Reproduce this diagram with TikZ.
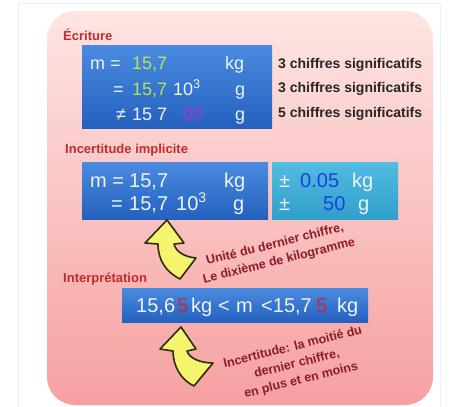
\documentclass[tikz,border=0pt]{standalone}
\usepackage{fontspec}
\setmainfont{Liberation Sans}
\definecolor{pinktop}{HTML}{FDE5E3}
\definecolor{pinkbot}{HTML}{F6A0A0}
\definecolor{bluetop}{HTML}{4A8BE0}
\definecolor{bluebot}{HTML}{2461BE}
\definecolor{cyantop}{HTML}{52BCE2}
\definecolor{cyanbot}{HTML}{2F9FCB}
\definecolor{greentxt}{HTML}{B6E35C}
\definecolor{numblue}{HTML}{1B3FE0}
\definecolor{purp}{HTML}{A030E0}
\definecolor{labred}{HTML}{C42A2E}
\definecolor{notered}{HTML}{8A1C28}
\definecolor{digred}{HTML}{C8283C}
\definecolor{arrowfill}{HTML}{F4F46E}
\definecolor{arrowline}{HTML}{2E2A0C}
\definecolor{boxwhite}{HTML}{EEF3FF}
\begin{document}
\begin{tikzpicture}[x=1pt,y=-1pt,
  bluebox/.style={top color=bluetop, bottom color=bluebot, draw=none, anchor=north west, inner sep=0pt},
  cyanbox/.style={top color=cyantop, bottom color=cyanbot, draw=none, anchor=north west, inner sep=0pt},
  tA/.style={anchor=base west, inner sep=0pt, text=boxwhite, font=\fontsize{18}{20}\selectfont},
  tB/.style={anchor=base west, inner sep=0pt, text=boxwhite, font=\fontsize{20}{22}\selectfont},
  sidetxt/.style={anchor=base west, inner sep=0pt, text=black!85, font=\bfseries\fontsize{14}{15}\selectfont},
  lbl/.style={anchor=base west, inner sep=0pt, text=labred, font=\bfseries\fontsize{13}{15}\selectfont},
  note/.style={align=center, inner sep=0pt, text=notered, rotate=14, font=\bfseries\fontsize{12.5}{17}\selectfont},
  curvearrow/.style={fill=arrowfill, draw=arrowline, line width=1.6pt, line join=round}
]
\useasboundingbox (0,0) rectangle (453,407);
\fill[white] (0,0) rectangle (453,407);
\draw[gray!12, line width=0.8pt] (18,3) rectangle (440,412);
% pink panel
\shade[top color=pinktop, bottom color=pinkbot, rounded corners=28pt] (47,11) rectangle (433,405);

% labels
\node[lbl] (lEcr) at (63,40.5) {Écriture};
\node[lbl] (lInc) at (65,153.5) {Incertitude implicite};
\node[lbl] (lInt) at (63,282.5) {Interprétation};

% box 1
\node[bluebox, minimum width=190pt, minimum height=83pt] (b1) at (82,45) {};
\node[tA] (b1m) at (90,69.5) {m =};
\node[tA, text=greentxt] (b1v) at (132,69.5) {15,7};
\node[tA] (b1u) at (225,69.5) {kg};
\node[tA] (b1e) at (113,95) {=};
\node[tA, text=greentxt] (b1v2) at (132,95) {15,7};
\node[tA] (b1p) at (173,95) {10\textsuperscript{3}};
\node[tA] (b1g) at (235,95) {g};
\node[tA] (b1n) at (116,120) {≠};
\node[tA] (b1v3) at (132,120) {15 7};
\node[tA, text=purp] (b1z) at (183,120) {00};
\node[tA] (b1g2) at (235,120) {g};

\node[sidetxt] (s1) at (278,68.5) {3 chiffres significatifs};
\node[sidetxt] (s2) at (278,92.5) {3 chiffres significatifs};
\node[sidetxt] (s3) at (278,117.5) {5 chiffres significatifs};

% box 2
\node[bluebox, minimum width=186pt, minimum height=57pt] (b2) at (82,162) {};
\node[tB] (b2m) at (90,187) {m =};
\node[tB] (b2v) at (129,187) {15,7};
\node[tB] (b2u) at (224,187) {kg};
\node[tB] (b2e) at (111,210) {=};
\node[tB] (b2v2) at (129,210) {15,7};
\node[tB] (b2p) at (176,210) {10\textsuperscript{3}};
\node[tB] (b2g) at (233,210) {g};

% cyan box
\node[cyanbox, minimum width=126pt, minimum height=57pt] (c2) at (272,162) {};
\node[tB] (c2pm) at (279,187) {±};
\node[tB, text=numblue] (c2v) at (300,187) {0.05};
\node[tB] (c2u) at (352,187) {kg};
\node[tB] (c2pm2) at (279,210) {±};
\node[tB, text=numblue] (c2v2) at (323,210) {50};
\node[tB] (c2g) at (358,210) {g};

% box 3
\node[bluebox, minimum width=246pt, minimum height=34pt] (b3) at (122,288) {};
\node[tB] (b3a) at (136,312) {15,6};
\node[tB, text=digred] (b3r1) at (177,312) {5};
\node[tB] (b3k1) at (191,312) {kg};
\node[tB] (b3lt1) at (218,312) {<};
\node[tB] (b3m) at (236,312) {m};
\node[tB] (b3b) at (261,312) {<15,7};
\node[tB, text=digred] (b3r2) at (316,312) {5};
\node[tB] (b3k2) at (337,312) {kg};

% curved arrows
\draw[curvearrow] (167,220) -- (184,243) -- (174,244)
  .. controls (176,252) and (185,257) .. (196,258)
  -- (180,279)
  .. controls (166,272) and (158,260) .. (158,244)
  -- (145,243) -- cycle;
\draw[curvearrow] (181,327) -- (196,349) -- (187,351)
  .. controls (189,358) and (200,363) .. (213,363)
  -- (194,386)
  .. controls (181,380) and (173,366) .. (173,351)
  -- (160,349) -- cycle;

% notes
\node[note] (n1) at (277,253) {Unité du dernier chiffre,\\Le dixième de kilogramme};
\node[note] (n2) at (297,364) {Incertitude: la moitié du\\dernier chiffre,\\en plus et en moins};
\end{tikzpicture}
\end{document}
